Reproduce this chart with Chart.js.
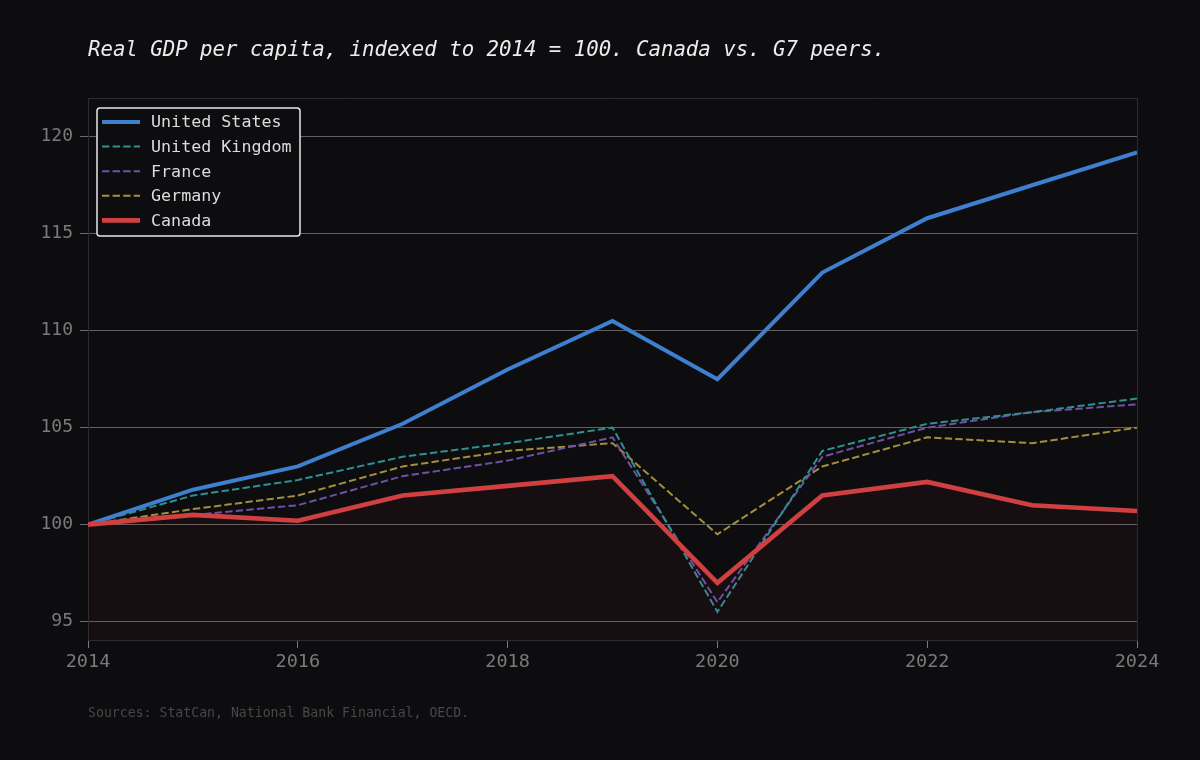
<!DOCTYPE html>
<html>
<head>
<meta charset="utf-8">
<script src="https://cdn.jsdelivr.net/npm/chart.js@4.4.0/dist/chart.umd.min.js"></script>
<style>
  html, body { margin:0; padding:0; background:#0d0d10; }
  #wrap { position:relative; width:1200px; height:760px; background:#0d0d10; }
  #title { position:absolute; left:88px; top:37px; font-family:"DejaVu Sans Mono", monospace; font-style:italic; font-size:20.7px; color:#ececec; white-space:nowrap; }
  #src { position:absolute; left:88px; top:705px; font-family:"DejaVu Sans Mono", monospace; font-size:13.2px; color:#484848; white-space:nowrap; }
  canvas { position:absolute; left:0; top:0; }
</style>
</head>
<body>
<div id="wrap">
  <canvas id="c" width="1200" height="760"></canvas>
  <div id="title">Real GDP per capita, indexed to 2014 = 100. Canada vs. G7 peers.</div>
  <div id="src">Sources: StatCan, National Bank Financial, OECD.</div>
</div>
<script>
const years = [2014, 2015, 2016, 2017, 2018, 2019, 2020, 2021, 2022, 2023, 2024];
const unitedStates  = [100, 101.8, 103.0, 105.2, 108.0, 110.5, 107.5, 113.0, 115.8, 117.5, 119.2];
const unitedKingdom = [100, 101.5, 102.3, 103.5, 104.2, 105.0, 95.5, 103.8, 105.2, 105.8, 106.5];
const france        = [100, 100.5, 101.0, 102.5, 103.3, 104.5, 96.0, 103.5, 105.0, 105.8, 106.2];
const germany       = [100, 100.8, 101.5, 103.0, 103.8, 104.2, 99.5, 103.0, 104.5, 104.2, 105.0];
const canada        = [100, 100.5, 100.2, 101.5, 102.0, 102.5, 97.0, 101.5, 102.2, 101.0, 100.7];
const yTickValues = [95, 100, 105, 110, 115, 120];
const xTickValues = [2014, 2016, 2018, 2020, 2022, 2024];

const toXY = arr => arr.map((v, i) => ({x: years[i], y: v}));
const MONO = '"DejaVu Sans Mono", monospace';

const frame = {
  id: 'frame',
  afterDraw(chart) {
    const {ctx, chartArea: a} = chart;
    ctx.save();
    ctx.strokeStyle = '#2c2c30';
    ctx.lineWidth = 1;
    ctx.beginPath();
    ctx.moveTo(a.left, a.top + 0.5); ctx.lineTo(a.right + 0.5, a.top + 0.5);
    ctx.lineTo(a.right + 0.5, a.bottom);
    ctx.stroke();
    // legend
    const x0 = 97, y0 = 108, w = 203, h = 128;
    ctx.fillStyle = '#0d0d10';
    ctx.strokeStyle = '#e8e8e8';
    ctx.lineWidth = 1.5;
    ctx.beginPath();
    ctx.roundRect(x0, y0, w, h, 3);
    ctx.fill(); ctx.stroke();
    ctx.font = '16.7px ' + MONO;
    ctx.textBaseline = 'middle';
    const ds = chart.data.datasets;
    ds.forEach((d, i) => {
      const yy = y0 + 14 + i * 24.6;
      ctx.strokeStyle = d.borderColor;
      ctx.lineWidth = d.borderWidth;
      ctx.setLineDash(d.borderDash || []);
      ctx.beginPath();
      ctx.moveTo(x0 + 5, yy); ctx.lineTo(x0 + 43, yy);
      ctx.stroke();
      ctx.setLineDash([]);
      ctx.fillStyle = '#dcdcdc';
      ctx.fillText(d.label, x0 + 54, yy + 1);
    });
    ctx.restore();
  }
};

new Chart(document.getElementById('c'), {
  type: 'line',
  data: {
    datasets: [
      { label: 'United States', data: toXY(unitedStates), borderColor: '#3f7fcf', borderWidth: 4, pointRadius: 0, order: 1, fill: false },
      { label: 'United Kingdom', data: toXY(unitedKingdom), borderColor: '#2f9090', borderWidth: 2, borderDash: [7.4, 3.2], pointRadius: 0, order: 2, fill: false },
      { label: 'France', data: toXY(france), borderColor: '#7050a5', borderWidth: 2, borderDash: [7.4, 3.2], pointRadius: 0, order: 3, fill: false },
      { label: 'Germany', data: toXY(germany), borderColor: '#a38e3e', borderWidth: 2, borderDash: [7.4, 3.2], pointRadius: 0, order: 4, fill: false },
      { label: 'Canada', data: toXY(canada), borderColor: '#d04040', borderWidth: 4.6, pointRadius: 0, order: 0, fill: 'start', backgroundColor: 'rgba(200,40,55,0.055)' }
    ]
  },
  options: {
    responsive: false,
    animation: false,
    devicePixelRatio: 1,
    layout: { padding: { left: 0, right: 63, top: 98, bottom: 0 } },
    plugins: { legend: { display: false }, tooltip: { enabled: false } },
    elements: { line: { tension: 0, borderCapStyle: 'butt', borderJoinStyle: 'miter' } },
    scales: {
      x: {
        type: 'linear', min: 2014, max: 2024,
        afterFit(s) { s.height = 120; },
        afterBuildTicks(s) { s.ticks = xTickValues.map(v => ({value: v})); },
        grid: { display: true, drawOnChartArea: false, drawTicks: true, tickLength: 8, color: '#7a7a7a' },
        border: { display: true, color: '#2c2c30' },
        ticks: { color: '#7a7a7a', font: { family: MONO, size: 18.5 }, padding: 3, maxRotation: 0, callback: v => String(v) }
      },
      y: {
        type: 'linear', min: 94.05, max: 122,
        afterFit(s) { s.width = 88; },
        afterBuildTicks(s) { s.ticks = yTickValues.map(v => ({value: v})); },
        grid: { color: '#626262', lineWidth: 1, tickLength: 8, drawTicks: true, tickColor: '#6a6a6a' },
        border: { display: true, color: '#2c2c30' },
        ticks: { color: '#7a7a7a', font: { family: MONO, size: 18 }, padding: 7, callback: v => String(v) }
      }
    }
  },
  plugins: [frame]
});
</script>
</body>
</html>
